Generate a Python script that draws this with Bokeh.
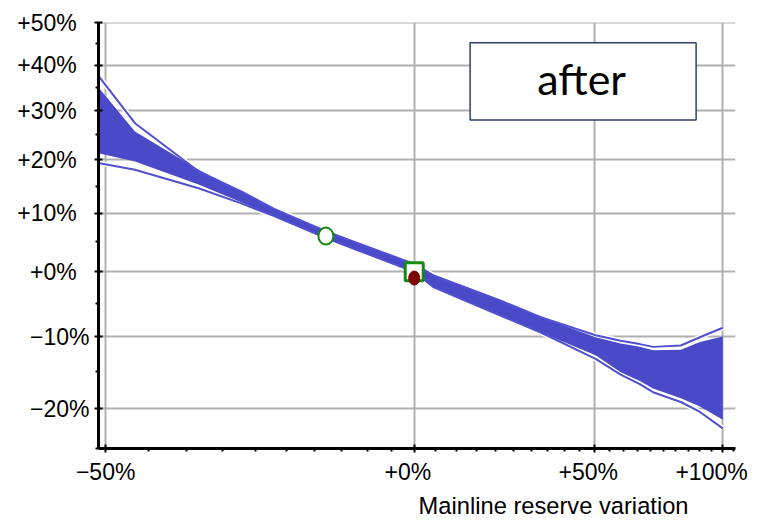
from bokeh.plotting import figure
from bokeh.models import (Range1d, FixedTicker, CustomJSTickFormatter,
                          BoxAnnotation, Label, Title)
from bokeh.embed import file_html
from bokeh.resources import INLINE

# ---- data (percent variations) ----
x_pct = [-50.8, -46.6, -38.4, -32.2, -27.0, -18.1, -13.2, 0.0, 4.5, 21.5,
         32.9, 50.3, 59.0, 66.0, 71.0, 82.0, 90.0, 100.0]
upper_line = [37.6, 27.4, 17.8, 14.0, 10.8, 6.9, 5.2, 1.3, -0.6, -4.6,
              -7.1, -9.8, -10.6, -11.1, -11.5, -11.3, -10.1, -8.7]
band_top = [35.0, 25.7, 18.1, 14.0, 10.8, 6.9, 5.2, 1.3, -0.6, -4.6,
            -7.1, -10.1, -11.0, -11.5, -12.0, -11.9, -10.8, -10.0]
band_bottom = [21.3, 19.7, 15.3, 12.0, 9.5, 5.7, 4.0, 0.0, -2.5, -6.9,
               -9.4, -12.7, -15.1, -16.3, -17.3, -18.6, -19.7, -21.4]
lower_line = [19.4, 18.1, 14.6, 11.8, 9.5, 5.7, 4.0, 0.0, -2.5, -6.9,
              -9.4, -13.2, -15.4, -16.7, -17.8, -19.1, -20.4, -22.5]

circle_pt = (-18.0, 6.0)
square_pt = (0.0, 0.0)
dot_pt = (0.0, -1.0)

x_tick_values = [-50, 0, 50, 100]
x_tick_labels = ["\u221250%", "+0%\u2007", "+50%\u2007", "+100%\u2007"]
x_minor_values = [v for v in range(-45, 106, 5) if v not in x_tick_values]
y_tick_values = [-20, -10, 0, 10, 20, 30, 40, 50]
y_tick_labels = ["\u221220%", "\u221210%", "+0%\u2007", "+10%\u2007",
                 "+20%\u2007", "+30%\u2007", "+40%\u2007", "+50%\u2007"]
y_minor_values = [-25, -15, -5, 5, 15, 25, 35, 45]

x_label = "Mainline reserve variation"
box_text = "after"


def r(vals):
    return [1 + v / 100.0 for v in vals]


BAND = "#4a4ac8"
LINE = "#5050d2"
GREEN = "#138a13"

p = figure(width=760, height=522, x_axis_type="log", y_axis_type="log",
           x_range=Range1d(0.492, 2.058), y_range=Range1d(0.75, 1.501),
           output_backend="svg", toolbar_location=None,
           min_border_left=98, min_border_right=25,
           min_border_top=22, min_border_bottom=73)
p.outline_line_color = None

fmt_code = """
for (let i = 0; i < tvals.length; i++) {
  if (Math.abs(tvals[i] - tick) < 1e-6) return tlabels[i];
}
return "";
"""
p.xaxis.ticker = FixedTicker(ticks=r(x_tick_values), minor_ticks=r(x_minor_values))
p.xaxis.formatter = CustomJSTickFormatter(args=dict(tvals=r(x_tick_values), tlabels=x_tick_labels), code=fmt_code)
p.yaxis.ticker = FixedTicker(ticks=r(y_tick_values), minor_ticks=r(y_minor_values))
p.yaxis.formatter = CustomJSTickFormatter(args=dict(tvals=r(y_tick_values), tlabels=y_tick_labels), code=fmt_code)

for ax in (p.xaxis[0], p.yaxis[0]):
    ax.axis_line_width = 3
    ax.axis_line_color = "black"
    ax.major_tick_line_width = 2
    ax.major_tick_line_color = "black"
    ax.major_tick_in = 4
    ax.major_tick_out = 4
    ax.minor_tick_in = 0
    ax.minor_tick_out = 3
    ax.minor_tick_line_width = 2
    ax.minor_tick_line_color = "black"
    ax.major_label_text_font = "Liberation Sans"
    ax.major_label_text_font_size = "23px"
    ax.major_label_text_color = "black"
p.xaxis.major_label_standoff = 6
p.yaxis.major_label_standoff = 5

for g in (p.xgrid, p.ygrid):
    g.grid_line_color = "#b0b0b0"
    g.grid_line_width = 2

xs = r(x_pct)
# white casing first, then the band, then the envelope lines
for ys in (upper_line, lower_line):
    p.line(xs, r(ys), line_color="white", line_width=5)
p.varea(x=xs, y1=r(band_top), y2=r(band_bottom), fill_color=BAND)
for ys in (upper_line, lower_line):
    p.line(xs, r(ys), line_color=LINE, line_width=2)

p.ellipse(x=[1 + circle_pt[0] / 100], y=[1 + circle_pt[1] / 100], width=15, height=17,
          width_units="screen", height_units="screen",
          fill_color="white", line_color=GREEN, line_width=2)
p.scatter(x=[1 + square_pt[0] / 100], y=[1 + square_pt[1] / 100], marker="square", size=18,
          fill_color="white", line_color=GREEN, line_width=3)
p.ellipse(x=[1 + dot_pt[0] / 100], y=[1 + dot_pt[1] / 100], width=11, height=14,
          width_units="screen", height_units="screen",
          fill_color="#800000", line_color="#800000")

p.add_layout(BoxAnnotation(left=1.1338, right=1.8837, bottom=1.2808, top=1.4525,
                           fill_color="white", fill_alpha=1.0,
                           line_color="#2f3d6b", line_alpha=1.0, line_width=1.5))
p.add_layout(Label(x=1.4565, y=1.3706, text=box_text, text_align="center",
                   text_baseline="alphabetic", text_font="Lato",
                   text_font_size="43px", text_color="black"))

p.add_layout(Title(text=x_label, align="right", offset=47, standoff=7,
                   text_font="Liberation Sans", text_font_size="23.7px",
                   text_font_style="normal", text_color="black"), "below")

open("out.html", "w").write(file_html(p, INLINE))
